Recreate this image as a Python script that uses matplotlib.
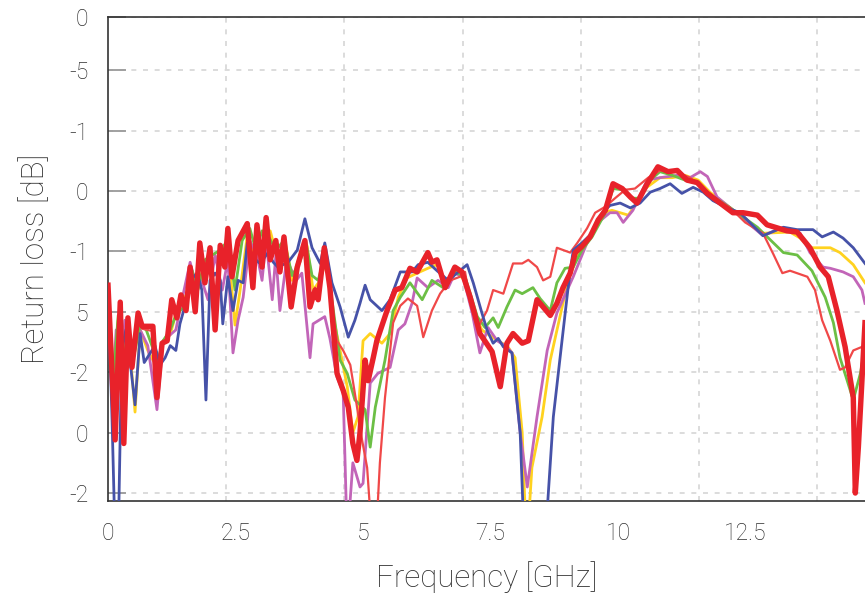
"""Return loss vs frequency, six measured traces."""

import matplotlib

matplotlib.use("Agg")
import matplotlib.pyplot as plt
from matplotlib.ticker import MultipleLocator

plt.rcParams["font.family"] = ["Roboto", "DejaVu Sans"]

# ---- data (GHz, dB) ----
blue_f = [0.00, 0.08, 0.14, 0.20, 0.27, 0.35, 0.43, 0.53, 0.63, 0.71, 0.80, 0.92, 1.02, 1.12,
          1.22, 1.33, 1.41, 1.51, 1.61, 1.75, 1.84, 1.92, 2.00, 2.10, 2.20, 2.25, 2.35, 2.45,
          2.55, 2.65, 2.73, 2.84, 2.98, 3.14, 3.24, 3.33, 3.53, 3.71, 3.86, 4.00, 4.16, 4.25,
          4.39, 4.55, 4.71, 4.84, 4.94, 5.04, 5.14, 5.37, 5.53, 5.73, 5.96, 6.08, 6.27, 6.45,
          6.67, 6.84, 7.04, 7.16, 7.33, 7.43, 7.55, 7.65, 7.75, 7.92, 8.08, 8.16, 8.57, 8.73,
          8.90, 9.02, 9.12, 9.29, 9.49, 9.69, 9.84, 10.04, 10.24, 10.43, 10.63, 10.82, 11.02,
          11.25, 11.47, 11.67, 11.86, 12.14, 12.39, 12.84, 13.24, 13.51, 13.82, 14.00, 14.22,
          14.41, 14.61, 14.84]
blue_db = [-23.0, -34.0, -44, -44, -28.2, -26.5, -29.0, -32.7, -26.8, -29.2, -28.6, -27.8, -29.4,
           -28.8, -27.8, -28.2, -26.0, -24.5, -22.4, -21.8, -23.2, -32.3, -22.4, -21.8, -22.4,
           -26.0, -22.1, -24.9, -22.4, -22.6, -19.3, -20.5, -21.0, -20.1, -20.9, -21.3, -20.9,
           -19.9, -17.3, -19.7, -21.0, -19.3, -22.6, -24.6, -27.1, -25.7, -24.3, -22.8, -24.0,
           -24.9, -24.0, -21.7, -21.7, -21.1, -20.9, -21.6, -22.4, -21.8, -21.1, -22.6, -25.1,
           -26.5, -27.6, -27.2, -27.9, -28.4, -35.0, -44, -44, -33.7, -27.4, -23.0, -19.9, -19.3,
           -18.5, -16.8, -16.2, -16.0, -16.4, -16.0, -15.1, -14.8, -14.4, -15.2, -14.7, -15.1,
           -15.8, -16.4, -16.8, -18.7, -18.0, -18.2, -18.2, -18.8, -18.4, -18.9, -19.7, -21.0]

purple_f = [0.00, 0.08, 0.16, 0.24, 0.33, 0.43, 0.63, 0.78, 0.96, 1.08, 1.22, 1.33, 1.45, 1.61,
            1.75, 1.84, 1.96, 2.10, 2.24, 2.35, 2.45, 2.55, 2.65, 2.78, 2.92, 3.02, 3.10, 3.22,
            3.29, 3.37, 3.49, 3.57, 3.69, 3.80, 3.96, 4.02, 4.25, 4.35, 4.49, 4.61, 4.69, 4.80,
            4.94, 5.00, 5.14, 5.29, 5.53, 5.69, 5.82, 5.96, 6.06, 6.27, 6.47, 6.67, 6.80, 6.96,
            7.14, 7.29, 7.45, 7.63, 7.82, 7.92, 8.08, 8.22, 8.41, 8.61, 8.80, 9.12, 9.39, 9.61,
            9.84, 9.98, 10.10, 10.29, 10.57, 10.82, 11.16, 11.41, 11.61, 11.75, 11.94, 12.20,
            12.84, 13.18, 13.57, 13.76, 14.02, 14.16, 14.41, 14.61, 14.78, 14.84]
purple_db = [-23.0, -32.3, -26.5, -30.7, -25.7, -28.2, -26.5, -27.8, -33.1, -27.4, -26.9, -26.5,
             -24.0, -20.9, -23.2, -22.4, -24.0, -20.3, -23.2, -20.7, -28.4, -25.7, -23.8, -19.1,
             -20.3, -22.4, -19.1, -24.0, -20.3, -24.9, -21.1, -21.3, -22.4, -21.8, -28.8, -26.0,
             -25.4, -27.2, -30.4, -31.7, -44, -37.5, -39.5, -39.2, -30.9, -30.1, -29.6, -26.5,
             -26.0, -24.3, -22.2, -23.0, -22.4, -23.0, -21.8, -22.1, -25.1, -28.4, -26.3, -27.4,
             -27.9, -28.4, -35.0, -39.5, -33.7, -28.2, -25.1, -22.1, -19.3, -17.6, -16.8, -16.8,
             -17.6, -16.6, -14.1, -13.9, -13.7, -13.9, -13.4, -13.8, -15.5, -16.4, -18.7, -18.1,
             -18.5, -20.1, -21.3, -21.4, -21.7, -22.1, -23.2, -24.3]

yellow_f = [0.00, 0.10, 0.20, 0.29, 0.39, 0.53, 0.63, 0.78, 0.88, 0.98, 1.08, 1.22, 1.37, 1.53,
            1.65, 1.76, 1.90, 2.04, 2.20, 2.35, 2.49, 2.59, 2.73, 2.88, 3.02, 3.18, 3.33, 3.47,
            3.61, 3.76, 3.90, 4.02, 4.16, 4.27, 4.39, 4.55, 4.69, 4.80, 4.90, 5.00, 5.14, 5.37,
            5.53, 5.69, 5.86, 6.06, 6.27, 6.45, 6.61, 6.84, 7.00, 7.16, 7.33, 7.53, 7.65, 7.84,
            7.98, 8.12, 8.20, 8.27, 8.31, 8.51, 8.67, 8.86, 9.02, 9.25, 9.49, 9.71, 9.88, 10.04,
            10.20, 10.33, 10.53, 10.82, 11.06, 11.31, 11.57, 11.80, 12.20, 12.84, 13.37, 13.57,
            13.76, 13.96, 14.16, 14.35, 14.61, 14.84]
yellow_db = [-23.0, -31.5, -25.7, -30.7, -26.1, -33.3, -26.5, -28.2, -29.0, -29.4, -27.4, -26.9,
             -24.5, -23.6, -21.7, -22.8, -21.1, -20.7, -20.3, -19.5, -26.1, -23.2, -18.7, -20.3,
             -19.5, -18.3, -20.7, -19.1, -22.4, -20.3, -19.5, -23.2, -22.4, -20.7, -24.9, -28.2,
             -31.2, -35.0, -33.7, -27.4, -26.8, -27.6, -26.8, -23.8, -22.2, -21.8, -21.4, -21.1,
             -22.4, -21.8, -22.4, -24.9, -26.5, -27.1, -27.4, -27.9, -28.8, -35.0, -44, -40.6,
             -37.9, -33.7, -29.0, -25.4, -22.4, -19.9, -18.7, -16.8, -16.6, -16.8, -17.0, -16.2,
             -14.8, -13.9, -13.9, -13.7, -14.1, -15.1, -16.4, -18.5, -18.4, -18.9, -19.7, -19.7,
             -19.7, -20.1, -21.1, -22.6]

green_f = [0.00, 0.10, 0.20, 0.29, 0.39, 0.49, 0.63, 0.75, 0.86, 0.98, 1.08, 1.22, 1.33, 1.41,
           1.53, 1.65, 1.76, 1.90, 2.04, 2.20, 2.35, 2.49, 2.63, 2.78, 2.90, 3.02, 3.14, 3.29,
           3.45, 3.61, 3.76, 3.88, 4.00, 4.12, 4.25, 4.39, 4.55, 4.69, 4.84, 5.04, 5.14, 5.24,
           5.43, 5.59, 5.73, 5.92, 6.16, 6.35, 6.57, 6.80, 7.00, 7.24, 7.39, 7.55, 7.65, 7.82,
           7.98, 8.12, 8.33, 8.47, 8.67, 8.80, 8.96, 9.12, 9.29, 9.49, 9.75, 9.90, 10.08, 10.27,
           10.43, 10.63, 10.82, 11.06, 11.31, 11.57, 11.80, 12.20, 12.73, 13.24, 13.51, 13.80,
           14.06, 14.22, 14.35, 14.61, 14.75, 14.84]
green_db = [-23.0, -30.7, -25.3, -30.3, -25.7, -29.0, -26.1, -26.5, -27.8, -29.0, -27.4, -26.5,
            -25.3, -24.9, -24.5, -21.6, -23.2, -20.7, -20.3, -19.9, -19.1, -23.2, -19.1, -18.1,
            -19.9, -18.3, -18.7, -19.9, -19.1, -22.0, -20.9, -19.2, -22.0, -22.4, -20.3, -24.0,
            -29.0, -30.1, -32.3, -33.1, -36.2, -32.9, -29.0, -24.9, -23.8, -22.6, -24.0, -22.4,
            -23.0, -21.7, -22.1, -25.4, -26.3, -25.5, -26.3, -24.6, -23.2, -23.5, -23.0, -23.9,
            -24.9, -22.6, -21.4, -21.3, -19.9, -18.8, -16.8, -14.8, -14.9, -15.6, -15.6, -14.1,
            -13.4, -13.7, -14.1, -14.4, -15.3, -16.4, -18.0, -20.1, -20.3, -21.6, -23.8, -25.9,
            -28.8, -32.3, -30.1, -27.9]

red_thin_f = [0.00, 0.14, 0.24, 0.31, 0.39, 0.47, 0.59, 0.67, 0.88, 0.96, 1.06, 1.16, 1.25, 1.35,
              1.43, 1.53, 1.61, 1.71, 1.80, 1.90, 2.00, 2.10, 2.20, 2.29, 2.35, 2.43, 2.55, 2.73,
              2.84, 2.92, 3.02, 3.10, 3.18, 3.29, 3.37, 3.45, 3.59, 3.71, 3.86, 3.96, 4.06, 4.12,
              4.24, 4.35, 4.49, 4.61, 4.75, 4.86, 4.98, 5.08, 5.18, 5.25, 5.33, 5.43, 5.59, 5.73,
              5.88, 6.06, 6.18, 6.35, 6.51, 6.71, 6.90, 7.00, 7.10, 7.25, 7.43, 7.55, 7.75, 7.94,
              8.12, 8.24, 8.41, 8.53, 8.67, 8.80, 9.06, 9.20, 9.39, 9.55, 9.75, 9.94, 10.14,
              10.33, 10.59, 10.82, 11.12, 11.41, 11.71, 11.96, 12.20, 12.49, 12.84, 13.04, 13.22,
              13.37, 13.71, 13.86, 14.00, 14.16, 14.35, 14.45, 14.61, 14.84]
red_thin_db = [-22.8, -34.5, -24.5, -34.8, -25.8, -29.2, -25.3, -26.4, -26.6, -31.5, -27.8, -27.2,
               -24.3, -25.4, -23.8, -24.6, -21.6, -24.6, -19.6, -22.3, -20.0, -26.0, -19.8, -21.0,
               -18.4, -21.8, -19.3, -18.0, -22.6, -18.1, -21.0, -17.5, -20.5, -19.3, -21.4, -19.0,
               -24.2, -21.0, -19.4, -24.2, -23.0, -23.6, -20.0, -23.5, -27.4, -28.2, -29.4, -32.3,
               -35.6, -37.9, -44, -44, -37.5, -32.1, -25.9, -24.5, -23.9, -24.5, -27.1, -24.9,
               -23.5, -22.4, -22.1, -21.7, -24.3, -26.3, -24.9, -23.2, -23.5, -21.0, -21.0, -20.7,
               -21.3, -22.4, -22.1, -19.7, -20.1, -19.3, -18.1, -16.8, -16.3, -15.6, -14.9, -14.8,
               -13.9, -13.3, -13.4, -13.9, -14.9, -15.8, -16.4, -17.6, -18.5, -20.2, -21.8, -21.6,
               -22.1, -23.2, -25.7, -27.4, -29.8, -29.6, -28.2, -27.8]

red_f = [0.00, 0.14, 0.24, 0.31, 0.39, 0.47, 0.59, 0.67, 0.88, 0.96, 1.06, 1.16, 1.25, 1.35, 1.43,
         1.53, 1.61, 1.71, 1.80, 1.90, 2.00, 2.10, 2.20, 2.29, 2.35, 2.43, 2.55, 2.73, 2.84, 2.92,
         3.02, 3.10, 3.18, 3.29, 3.37, 3.45, 3.59, 3.71, 3.86, 3.96, 4.06, 4.12, 4.24, 4.35, 4.49,
         4.61, 4.71, 4.80, 4.88, 4.94, 5.04, 5.10, 5.20, 5.27, 5.47, 5.63, 5.76, 5.92, 6.06, 6.27,
         6.35, 6.45, 6.61, 6.80, 6.94, 7.10, 7.29, 7.53, 7.69, 7.82, 7.94, 8.12, 8.24, 8.41, 8.53,
         8.67, 8.80, 8.92, 9.06, 9.16, 9.29, 9.45, 9.61, 9.75, 9.90, 10.08, 10.24, 10.37, 10.57,
         10.78, 10.98, 11.16, 11.35, 11.55, 11.75, 12.00, 12.25, 12.45, 12.73, 12.92, 13.31, 13.51,
         13.76, 13.96, 14.12, 14.29, 14.45, 14.61, 14.65, 14.71, 14.78, 14.84]
red_db = [-22.8, -35.6, -24.2, -35.9, -25.5, -29.6, -25.1, -26.2, -26.2, -32.1, -27.6, -27.4,
          -24.0, -25.5, -23.6, -24.9, -21.3, -25.0, -19.3, -22.6, -19.7, -26.5, -19.5, -21.3,
          -18.1, -22.1, -19.1, -17.7, -23.0, -17.8, -21.3, -17.2, -20.7, -19.1, -21.7, -18.8,
          -24.6, -21.3, -19.1, -24.6, -23.2, -24.0, -19.7, -23.0, -30.1, -31.5, -32.9, -35.9,
          -37.3, -35.0, -29.0, -30.7, -28.8, -27.4, -24.9, -23.2, -23.0, -21.4, -21.7, -20.1,
          -20.9, -20.7, -23.0, -21.3, -21.7, -23.8, -26.8, -28.3, -31.2, -27.6, -26.8, -27.6,
          -27.4, -24.0, -24.6, -25.3, -24.3, -23.0, -21.8, -20.1, -19.6, -18.8, -17.4, -16.6,
          -14.4, -14.8, -15.5, -16.0, -14.4, -13.0, -13.4, -13.3, -14.1, -14.3, -15.2, -16.0,
          -16.8, -16.8, -17.0, -17.8, -18.3, -18.4, -19.7, -21.3, -22.1, -24.9, -27.9, -32.1,
          -40.0, -36.2, -30.7, -25.9]

Y_TICKS = [-0.6, -5, -10, -15, -20, -25, -30, -35, -40]
Y_LABELS = ["0", "-5", "-1", "0", "-1", "5", "-2", "0", "-2"]
X_TICKS = [0, 2.5, 5, 7.5, 10, 12.5]
X_LABELS = ["0", "2.5", "5", "7.5", "10", "12.5"]


def main() -> None:
    fig = plt.figure(figsize=(8.65, 5.97), dpi=100)
    ax = fig.add_axes([108 / 865, 1 - 501 / 597, 757 / 865, 484 / 597])

    series = [
        (yellow_f, yellow_db, "#ffd21f", 2.0),
        (purple_f, purple_db, "#c265b8", 2.0),
        (green_f, green_db, "#6cbf45", 2.0),
        (red_thin_f, red_thin_db, "#f04848", 1.6),
        (blue_f, blue_db, "#4652a8", 2.0),
        (red_f, red_db, "#e8222a", 3.9),
    ]
    for f, db, color, lw in series:
        ax.plot(f, db, color=color, lw=lw, solid_joinstyle="round", zorder=3)

    ax.set_xlim(0, 14.84)
    ax.set_ylim(-40.66, -0.6)

    ax.set_xticks(X_TICKS)
    ax.set_xticklabels(X_LABELS)
    ax.set_yticks(Y_TICKS)
    ax.set_yticklabels(Y_LABELS)
    ax.xaxis.set_minor_locator(MultipleLocator(2.318))

    ax.tick_params(axis="x", which="both", length=0, pad=15, labelsize=16.5,
                   labelcolor="#2e2e2e")
    ax.tick_params(axis="y", direction="in", length=13, width=1.3, color="#9a9a9a",
                   pad=14, labelsize=16.5, labelcolor="#2e2e2e")

    grid_kw = dict(color="#d6d6d6", lw=1.2, linestyle=(0, (3, 4)))
    ax.grid(axis="y", which="major", **grid_kw)
    ax.grid(axis="x", which="minor", **grid_kw)
    ax.set_axisbelow(True)

    for side in ("left", "bottom", "top"):
        ax.spines[side].set_color("#333333")
        ax.spines[side].set_linewidth(1.2)
    ax.spines["right"].set_visible(False)

    for lab in ax.get_xticklabels() + ax.get_yticklabels():
        lab.set_fontweight("light")

    ax.set_xlabel("Frequency [GHz]", fontsize=22.5, fontweight="light", color="#2e2e2e",
                  labelpad=12)
    ax.set_ylabel("Return loss [dB]", fontsize=22.5, fontweight="light", color="#2e2e2e",
                  labelpad=14)

    fig.savefig("out.png", dpi=100)


if __name__ == "__main__":
    main()
